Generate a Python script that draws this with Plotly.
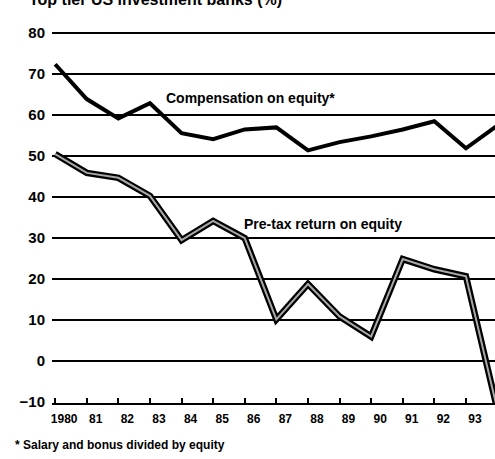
import plotly.graph_objects as go

years = list(range(1980, 1995))
compensation = [72.4, 63.9, 59.2, 62.9, 55.6, 54.1, 56.5, 57.0, 51.4, 53.4, 54.8, 56.5, 58.5, 51.9, 57.5]
pretax = [50.5, 45.9, 44.7, 40.3, 29.5, 34.2, 30.0, 10.2, 18.8, 10.9, 6.0, 24.9, 22.4, 20.7, -12.0]

tick_years = list(range(1980, 1994))
tick_labels = ["1980"] + [f"{y % 100:02d}" for y in range(1981, 1994)]
y_ticks = [-10, 0, 10, 20, 30, 40, 50, 60, 70, 80]

title_text = "Top tier US investment banks (%)"
comp_label = "Compensation on equity*"
pretax_label = "Pre-tax return on equity"
footnote = "* Salary and bonus divided by equity"

FONT = "Liberation Sans, Arial, sans-serif"

fig = go.Figure()
fig.add_trace(go.Scatter(x=years, y=compensation, mode="lines",
                         line=dict(color="black", width=4), hoverinfo="skip"))
fig.add_trace(go.Scatter(x=years, y=pretax, mode="lines",
                         line=dict(color="black", width=6.5), hoverinfo="skip"))
fig.add_trace(go.Scatter(x=years, y=pretax, mode="lines",
                         line=dict(color="#a8a8a8", width=2), hoverinfo="skip"))

fig.add_annotation(x=1983.45, y=64.1, xref="x", yref="y", text="<b>" + comp_label + "</b>",
                   showarrow=False, xanchor="left", yanchor="middle",
                   font=dict(family=FONT, size=14, color="black"))
fig.add_annotation(x=1985.9, y=33.4, xref="x", yref="y", text="<b>" + pretax_label + "</b>",
                   showarrow=False, xanchor="left", yanchor="middle",
                   font=dict(family=FONT, size=14, color="black"))
fig.add_annotation(x=-0.056, y=1.084, xref="paper", yref="paper", text="<b>" + title_text + "</b>",
                   showarrow=False, xanchor="left", yanchor="middle",
                   font=dict(family=FONT, size=16, color="black"))
fig.add_annotation(x=-0.088, y=-0.113, xref="paper", yref="paper", text="<b>" + footnote + "</b>",
                   showarrow=False, xanchor="left", yanchor="middle",
                   font=dict(family=FONT, size=12, color="black"))

fig.update_layout(
    width=495, height=459,
    margin=dict(l=52, r=0, t=31, b=56),
    paper_bgcolor="white", plot_bgcolor="white",
    showlegend=False,
    font=dict(family=FONT, color="black"),
)
fig.update_xaxes(range=[1979.9, 1993.92], tickvals=tick_years, ticktext=tick_labels,
                 showgrid=False, zeroline=False, showline=True, linecolor="black", linewidth=2,
                 ticks="inside", ticklen=5, tickwidth=2, tickcolor="black",
                 ticklabelshift=9, ticklabelstandoff=4,
                 tickfont=dict(family=FONT, size=12, color="black", weight="bold"))
fig.update_yaxes(range=[-10.2, 80.5], tickvals=y_ticks,
                 showgrid=True, gridcolor="black", gridwidth=2, zeroline=False,
                 showline=False, ticks="", ticklabelstandoff=6,
                 tickfont=dict(family=FONT, size=15, color="black", weight="bold"))

fig.write_html("out.html", config={"displayModeBar": False},
               post_script="document.body.style.margin='0';document.body.style.overflow='hidden';")
